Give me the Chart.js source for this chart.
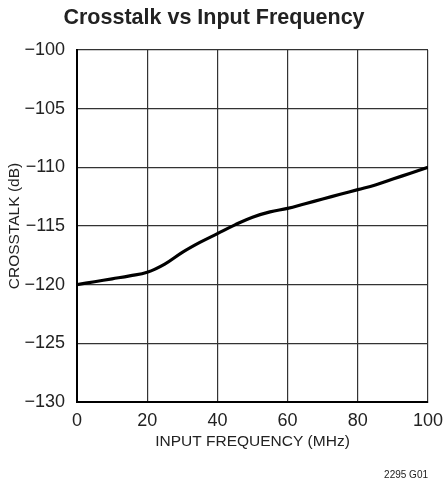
<!DOCTYPE html>
<html>
<head>
<meta charset="utf-8">
<script src="https://cdn.jsdelivr.net/npm/chart.js@4"></script>
<style>
  html, body { margin: 0; padding: 0; background: #fff; }
  #wrap { width: 445px; height: 486px; }
</style>
</head>
<body>
<div id="wrap"><canvas id="crosstalkChart" width="445" height="486"></canvas></div>
<script>
// data
var freqMHz = [0, 5, 10, 15, 20, 25, 30, 35, 40, 45, 50, 55, 60, 65, 70, 75, 80, 85, 90, 95, 100];
var crosstalkDb = [-120, -119.75, -119.5, -119.25, -118.95, -118.25, -117.25, -116.4, -115.65, -114.9,
  -114.25, -113.8, -113.5, -113.1, -112.7, -112.3, -111.9, -111.5, -111.0, -110.5, -110.0];
var xTicks = [0, 20, 40, 60, 80, 100];
var yTicks = [-130, -125, -120, -115, -110, -105, -100];

var FONT = "'Liberation Sans Narrow', 'Arial Narrow', 'Liberation Sans', sans-serif";

document.addEventListener("DOMContentLoaded", function () {
  var points = freqMHz.map(function (f, i) { return { x: f, y: crosstalkDb[i] }; });

  var ctx = document.getElementById("crosstalkChart").getContext("2d");
  var myChart = new Chart(ctx, {
    type: "line",
    data: {
      datasets: [{
        data: points,
        borderColor: "#000",
        borderWidth: 3.2,
        pointRadius: 0,
        tension: 0.4,
        fill: false
      }]
    },
    options: {
      responsive: false,
      animation: false,
      layout: { padding: { left: 0, right: 17, top: 0, bottom: 0 } },
      plugins: {
        legend: { display: false },
        tooltip: { enabled: false },
        title: {
          display: true,
          text: "Crosstalk vs Input Frequency",
          color: "#222",
          font: { family: FONT, size: 21.5, weight: "bold", lineHeight: 1.2 },
          padding: { top: 5.5, bottom: 18.7 }
        },
        subtitle: {
          display: true,
          position: "bottom",
          align: "end",
          text: "2295 G01",
          color: "#222",
          font: { family: FONT, size: 10, lineHeight: 1.2 },
          padding: { top: 0, bottom: 5 }
        }
      },
      scales: {
        x: {
          type: "linear",
          min: 0,
          max: 100,
          afterFit: function (scale) {
            scale.height = 67;
            scale.paddingLeft = 0;
            scale.paddingRight = 0;
          },
          afterBuildTicks: function (scale) {
            scale.ticks = xTicks.map(function (v) { return { value: v }; });
          },
          ticks: { color: "#222", padding: 8, font: { family: FONT, size: 18 } },
          grid: { color: "#333", lineWidth: 1.2, drawTicks: false },
          border: { color: "#000", width: 2 },
          title: {
            display: true,
            text: "INPUT FREQUENCY (MHz)",
            color: "#222",
            font: { family: FONT, size: 15.5, lineHeight: 1.2 },
            padding: { top: 17.7, bottom: 17.7 }
          }
        },
        y: {
          type: "linear",
          min: -130,
          max: -100,
          afterFit: function (scale) {
            scale.width = 77;
            scale.paddingTop = 0;
            scale.paddingBottom = 0;
          },
          afterBuildTicks: function (scale) {
            scale.ticks = yTicks.map(function (v) { return { value: v }; });
          },
          ticks: {
            color: "#222",
            padding: 12,
            font: { family: FONT, size: 18 },
            callback: function (v) { return String(v).replace("-", "\u2212"); }
          },
          grid: { color: "#333", lineWidth: 1.2, drawTicks: false },
          border: { color: "#000", width: 2 },
          title: {
            display: true,
            text: "CROSSTALK (dB)",
            color: "#222",
            font: { family: FONT, size: 15.5, lineHeight: 1.2 },
            padding: { top: 5, bottom: 5 }
          }
        }
      }
    }
  });
});
</script>
</body>
</html>
